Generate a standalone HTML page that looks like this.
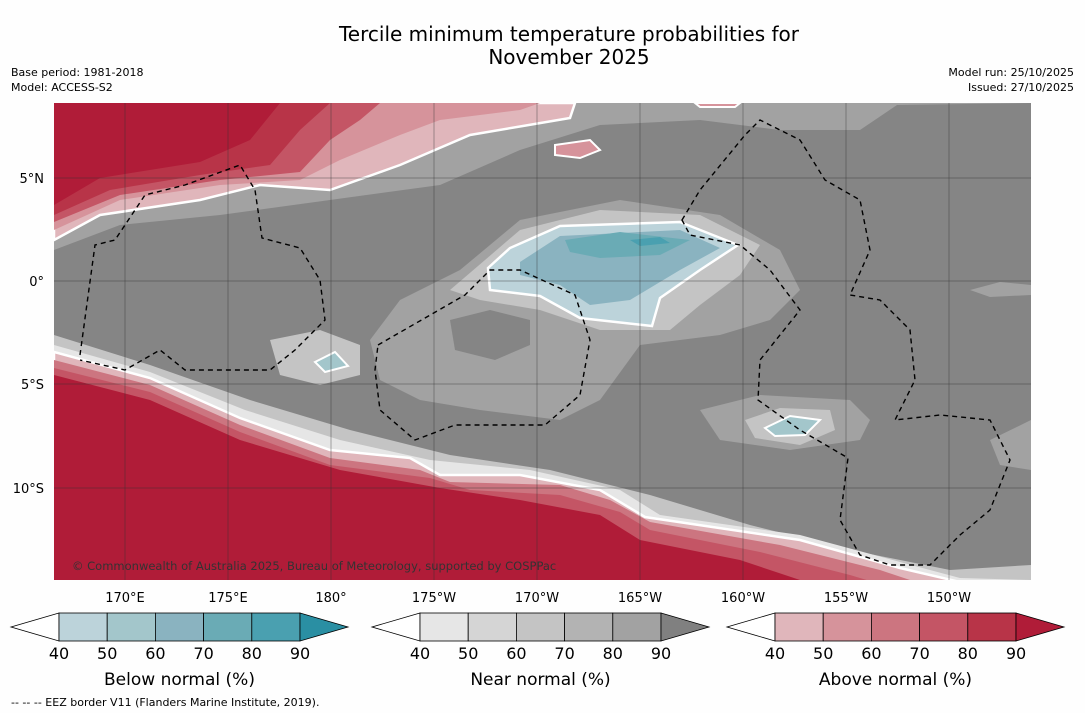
<!DOCTYPE html>
<html><head><meta charset="utf-8">
<style>
body{margin:0;background:#fff;width:1085px;height:713px;overflow:hidden;font-family:"DejaVu Sans",sans-serif}
svg{display:block}
</style></head><body>
<svg width="1085" height="713" xmlns="http://www.w3.org/2000/svg" font-family="DejaVu Sans, sans-serif">
<rect width="1085" height="713" fill="#fefefe"/>
<text x="569" y="41" font-size="20" text-anchor="middle">Tercile minimum temperature probabilities for</text>
<text x="569" y="64" font-size="20" text-anchor="middle">November 2025</text>
<text x="11" y="76" font-size="11">Base period: 1981-2018</text>
<text x="11" y="91" font-size="11">Model: ACCESS-S2</text>
<text x="1074" y="76" font-size="11" text-anchor="end">Model run: 25/10/2025</text>
<text x="1074" y="91" font-size="11" text-anchor="end">Issued: 27/10/2025</text>

<defs><clipPath id="mc"><rect x="54" y="103" width="977" height="477"/></clipPath></defs>
<g clip-path="url(#mc)">
<rect x="54" y="103" width="977" height="477" fill="#858585"/>
<path d="M54,230 L150,205 L260,190 L380,180 L480,140 L570,110 L1031,103 L1031,103 L560,103 L54,103Z" fill="#a2a2a2"/>
<path d="M54,250 L120,225 L220,215 L330,200 L440,185 L520,150 L600,125 L700,120 L780,130 L860,130 L900,103 L54,103Z" fill="#a2a2a2"/>
<path d="M400,300 L460,270 L520,220 L620,200 L720,215 L780,250 L800,290 L770,320 L720,335 L640,345 L600,400 L560,420 L480,410 L420,400 L380,380 L370,340Z" fill="#a2a2a2"/>
<path d="M450,290 L520,230 L600,210 L700,215 L760,245 L740,275 L700,305 L670,330 L600,330 L540,310 L480,300Z" fill="#c4c4c4"/>
<path d="M270,340 L320,330 L360,345 L360,375 L320,385 L280,375Z" fill="#c4c4c4"/>
<path d="M700,410 L760,395 L850,400 L870,420 L860,440 L790,450 L720,440Z" fill="#a2a2a2"/>
<path d="M745,420 L780,408 L830,410 L835,430 L800,445 L755,438Z" fill="#c4c4c4"/>
<path d="M990,440 L1031,420 L1031,470 L1000,465Z" fill="#a2a2a2"/>
<path d="M970,290 L1000,282 L1031,285 L1031,295 L990,297Z" fill="#a2a2a2"/>
<path d="M450,320 L490,310 L530,320 L530,345 L495,360 L455,350Z" fill="#858585"/>
<path d="M54,335 L150,365 L250,400 L350,430 L450,455 L550,470 L650,495 L750,525 L850,550 L950,570 L1031,565 L1031,580 L54,580Z" fill="#c4c4c4"/>
<path d="M54,345 L150,372 L245,410 L340,440 L430,460 L530,470 L620,490 L660,515 L800,535 L900,562 L960,578 L1031,580 L54,580Z" fill="#e6e6e6"/>
<path d="M54,352 L150,378 L240,418 L330,450 L410,458 L440,475 L520,475 L600,490 L645,517 L800,540 L900,568 L960,582 L54,582Z" fill="#e0b6bb" stroke="#fff" stroke-width="2.5"/>
<path d="M54,360 L150,385 L240,425 L330,458 L420,470 L450,482 L560,485 L610,500 L650,522 L780,545 L880,570 L940,590 L54,590Z" fill="#cc7580"/>
<path d="M54,368 L150,392 L240,432 L330,465 L430,478 L470,490 L560,495 L620,512 L650,530 L760,552 L850,575 L900,590 L54,590Z" fill="#c45565"/>
<path d="M54,375 L150,400 L240,440 L340,470 L440,488 L520,500 L600,515 L640,540 L740,560 L800,580 L54,590Z" fill="#b01c38"/>
<path d="M54,240 L100,215 L200,200 L260,185 L330,190 L400,165 L470,135 L570,118 L575,103 L54,103Z" fill="#e0b6bb" stroke="#fff" stroke-width="2.5"/>
<path d="M54,230 L120,200 L220,185 L300,180 L340,160 L400,135 L440,120 L520,110 L540,103 L54,103Z" fill="#d6939b"/>
<path d="M54,222 L120,195 L220,180 L300,172 L330,140 L360,120 L380,103 L54,103Z" fill="#c45565"/>
<path d="M54,215 L110,190 L200,175 L270,165 L300,130 L330,103 L54,103Z" fill="#b83448"/>
<path d="M54,205 L100,178 L200,162 L250,140 L280,103 L54,103Z" fill="#b01c38"/>
<path d="M555,145 L590,140 L600,150 L580,158 L555,155Z" fill="#d6939b" stroke="#fff" stroke-width="2"/>
<path d="M695,103 L740,103 L735,107 L700,107Z" fill="#d6939b" stroke="#fff" stroke-width="2"/>
<path d="M488,268 L510,248 L560,226 L680,222 L738,245 L700,270 L660,298 L652,326 L580,318 L540,296 L490,290Z" fill="#bcd3da" stroke="#fff" stroke-width="2.5"/>
<path d="M520,262 L560,236 L680,230 L720,248 L680,270 L630,300 L590,305 L560,285 L520,275Z" fill="#8ab3c0"/>
<path d="M565,240 L620,232 L690,240 L660,255 L600,258 L570,252Z" fill="#6aabb5"/>
<path d="M630,240 L660,237 L670,243 L640,246Z" fill="#4aa0b0"/>
<path d="M315,362 L335,352 L348,366 L325,372Z" fill="#a3c6cb" stroke="#fff" stroke-width="2"/>
<path d="M765,428 L790,416 L820,420 L805,435 L775,436Z" fill="#a3c6cb" stroke="#fff" stroke-width="2"/>
<g stroke="#333" stroke-width="0.5" stroke-opacity="0.8">
<line x1="125" y1="103" x2="125" y2="580"/><line x1="228" y1="103" x2="228" y2="580"/><line x1="331" y1="103" x2="331" y2="580"/>
<line x1="434" y1="103" x2="434" y2="580"/><line x1="537" y1="103" x2="537" y2="580"/><line x1="640" y1="103" x2="640" y2="580"/>
<line x1="743" y1="103" x2="743" y2="580"/><line x1="846" y1="103" x2="846" y2="580"/><line x1="949" y1="103" x2="949" y2="580"/>
<line x1="54" y1="178" x2="1031" y2="178"/><line x1="54" y1="281" x2="1031" y2="281"/><line x1="54" y1="384" x2="1031" y2="384"/><line x1="54" y1="488" x2="1031" y2="488"/>
</g>
<g fill="none" stroke="#000" stroke-width="1.4" stroke-dasharray="5,4">
<path d="M80,355 L95,245 L115,240 L145,195 L185,185 L240,165 L255,190 L262,238 L300,248 L320,280 L325,320 L295,350 L270,370 L185,370 L160,350 L125,370 L80,360"/>
<path d="M378,345 L465,295 L490,270 L520,270 L575,295 L590,340 L580,395 L545,425 L500,425 L455,425 L415,440 L380,410 L375,370Z"/>
<path d="M682,220 L700,190 L745,135 L760,120 L800,140 L825,180 L860,200 L870,250 L850,295 L880,300 L910,330 L915,380 L895,420 L940,415 L990,420 L1010,460 L990,510 L960,535 L930,565 L890,565 L860,555 L840,520 L848,458 L800,430 L758,400 L760,360 L800,310 L770,270 L740,245 L690,235Z"/>
</g>
<text x="72" y="570" font-size="11.5" fill="#333">© Commonwealth of Australia 2025, Bureau of Meteorology, supported by COSPPac</text>
</g>
<g font-size="13">
<text x="44" y="183" text-anchor="end">5°N</text><text x="44" y="286" text-anchor="end">0°</text>
<text x="44" y="389" text-anchor="end">5°S</text><text x="44" y="493" text-anchor="end">10°S</text>
<text x="125" y="602" text-anchor="middle">170°E</text><text x="228" y="602" text-anchor="middle">175°E</text><text x="331" y="602" text-anchor="middle">180°</text>
<text x="434" y="602" text-anchor="middle">175°W</text><text x="537" y="602" text-anchor="middle">170°W</text><text x="640" y="602" text-anchor="middle">165°W</text>
<text x="743" y="602" text-anchor="middle">160°W</text><text x="846" y="602" text-anchor="middle">155°W</text><text x="949" y="602" text-anchor="middle">150°W</text>
</g>
<g id="bars"></g>
<text x="11" y="706" font-size="11">--  --  -- EEZ border V11 (Flanders Marine Institute, 2019).</text>
</svg>
<script>
const tickLabels = [40,50,60,70,80,90];
const barTitles = ["Below normal (%)","Near normal (%)","Above normal (%)"];
const barStarts = [59,420,775];
const barColors = [
 ["#bcd3da","#a3c6cb","#8ab3c0","#6aabb5","#4aa0b0","#2a8fa3"],
 ["#e6e6e6","#d5d5d5","#c4c4c4","#b3b3b3","#a2a2a2","#808080"],
 ["#e0b6bb","#d6939b","#cc7580","#c45565","#b83448","#b01c38"]];
const NS="http://www.w3.org/2000/svg";
const g=document.getElementById('bars');
barStarts.forEach((x0,i)=>{
  const w=48.2,y=613,h=28;
  const grp=document.createElementNS(NS,'g');
  
  
  const lt=document.createElementNS(NS,'path');
  lt.setAttribute('d',`M${x0},${y} L${x0-48},${y+h/2} L${x0},${y+h}Z`);
  lt.setAttribute('fill','#fff');lt.setAttribute('stroke','#000');lt.setAttribute('stroke-width','0.8');
  
  
  grp.appendChild(lt);
  for(let k=0;k<5;k++){
    const r=document.createElementNS(NS,'rect');
    r.setAttribute('x',x0+k*w);r.setAttribute('y',y);r.setAttribute('width',w);r.setAttribute('height',h);
    r.setAttribute('fill',barColors[i][k]);r.setAttribute('stroke','#000');r.setAttribute('stroke-width','0.8');
    
    
    grp.appendChild(r);
  }
  const xe=x0+5*w;
  const rt=document.createElementNS(NS,'path');
  rt.setAttribute('d',`M${xe},${y} L${xe+48},${y+h/2} L${xe},${y+h}Z`);
  rt.setAttribute('fill',barColors[i][5]);rt.setAttribute('stroke','#000');rt.setAttribute('stroke-width','0.8');
  
  
  grp.appendChild(rt);
  tickLabels.forEach((t,k)=>{
    const tx=document.createElementNS(NS,'text');
    tx.setAttribute('x',x0+k*w);tx.setAttribute('y',y+h+18);tx.setAttribute('font-size','16');tx.setAttribute('text-anchor','middle');
    tx.textContent=t;
    
    
    grp.appendChild(tx);
  });
  const tt=document.createElementNS(NS,'text');
  tt.setAttribute('x',x0+2.5*w);tt.setAttribute('y',685);tt.setAttribute('font-size','17');tt.setAttribute('text-anchor','middle');
  tt.textContent=barTitles[i];
  
  
  grp.appendChild(tt);
  g.appendChild(grp);
});
</script>
</body></html>
